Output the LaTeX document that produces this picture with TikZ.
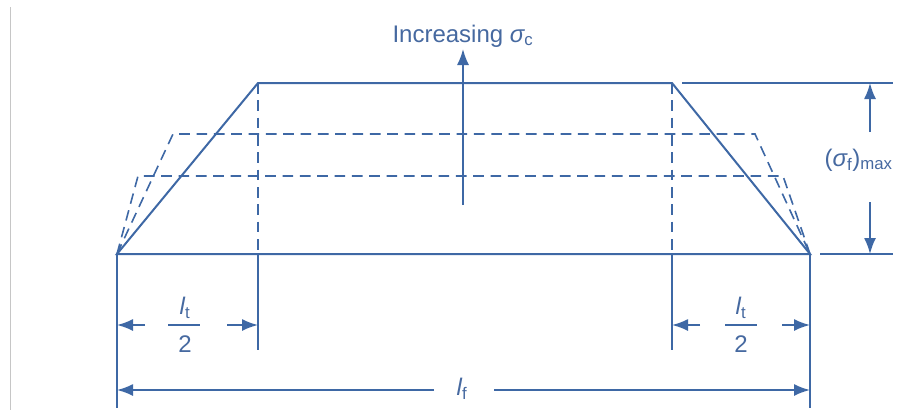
\documentclass[tikz,border=0pt]{standalone}
\usepackage{fontspec}
\setmainfont{Liberation Sans}
\usetikzlibrary{arrows.meta}
\definecolor{fb}{RGB}{62,104,165}
\definecolor{ft}{RGB}{70,105,160}
\begin{document}
\begin{tikzpicture}[x=0.75pt,y=-0.75pt,
 sol/.style={draw=fb, line width=1.5pt},
 dsh/.style={draw=fb, line width=1.2pt, dash pattern=on 8pt off 5pt},
 dimarrow/.style={draw=fb, line width=1.3pt, -{Latex[length=12pt,width=9pt]}},
 lbl/.style={text=ft, font=\fontsize{18}{20}\selectfont, inner sep=1pt}]
\useasboundingbox (0,0) rectangle (906,411);
\draw[gray!45, line width=0.75pt] (10,7) -- (10,410);
% corners
\coordinate (A) at (117,254);
\coordinate (B) at (258,83);
\coordinate (C) at (672,83);
\coordinate (D) at (810,254);
\coordinate (E1) at (173,134);
\coordinate (E2) at (755,134);
\coordinate (F1) at (138,176);
\coordinate (F2) at (783,176);
% trapezoids
\draw[dsh] (A) -- (E1) -- (E2) -- (D);
\draw[dsh] (A) -- (F1) -- (F2) -- (D);
\draw[sol] (A) -- (B) -- (C) -- (D) -- cycle;
% verticals
\coordinate (Bb) at (258,254);
\coordinate (Cb) at (672,254);
\coordinate (Bl) at (258,350);
\coordinate (Cl) at (672,350);
\coordinate (Al) at (117,408);
\coordinate (Dl) at (810,408);
\draw[dsh] (B) -- (Bb);
\draw[dsh] (C) -- (Cb);
\draw[sol] (Bb) -- (Bl);
\draw[sol] (Cb) -- (Cl);
\draw[sol] (A) -- (Al);
\draw[sol] (D) -- (Dl);
% extension lines
\coordinate (T1) at (682,83);
\coordinate (T2) at (893,83);
\coordinate (U1) at (820,254);
\coordinate (U2) at (893,254);
\draw[sol] (T1) -- (T2);
\draw[sol] (U1) -- (U2);
% increasing arrow
\coordinate (inc0) at (463,205);
\node[lbl] (inc) at (463,36) {Increasing {\itshape σ}\textsubscript{c}};
\draw[dimarrow] (inc0) -- (463,49);
% sigma max
\node[lbl, anchor=west] (smax) at (823,160) {({\itshape σ}\textsubscript{f})\textsubscript{max}};
\coordinate (s1) at (870,132);
\coordinate (s2) at (870,202);
\draw[dimarrow] (s1) -- (870,83);
\draw[dimarrow] (s2) -- (870,254);
% lt/2 left
\node[lbl] (n1) at (185,308) {\itshape l\textsubscript{\upshape t}};
\node[lbl] (d1) at (185,344) {2};
\coordinate (b1a) at (168,325);
\coordinate (b1b) at (200,325);
\draw[sol, line width=1.8pt] (b1a) -- (b1b);
\coordinate (l1a) at (145,325);
\coordinate (l1b) at (227,325);
\draw[dimarrow] (l1a) -- (117,325);
\draw[dimarrow] (l1b) -- (258,325);
% lt/2 right
\node[lbl] (n2) at (741,308) {\itshape l\textsubscript{\upshape t}};
\node[lbl] (d2) at (741,344) {2};
\coordinate (b2a) at (725,325);
\coordinate (b2b) at (757,325);
\draw[sol, line width=1.8pt] (b2a) -- (b2b);
\coordinate (l2a) at (700,325);
\coordinate (l2b) at (782,325);
\draw[dimarrow] (l2a) -- (672,325);
\draw[dimarrow] (l2b) -- (810,325);
% lf
\node[lbl] (lf) at (462,389) {\itshape l\textsubscript{\upshape f}};
\coordinate (lfa) at (434,390);
\coordinate (lfb) at (494,390);
\draw[dimarrow] (lfa) -- (117,390);
\draw[dimarrow] (lfb) -- (810,390);
\end{tikzpicture}
\end{document}
